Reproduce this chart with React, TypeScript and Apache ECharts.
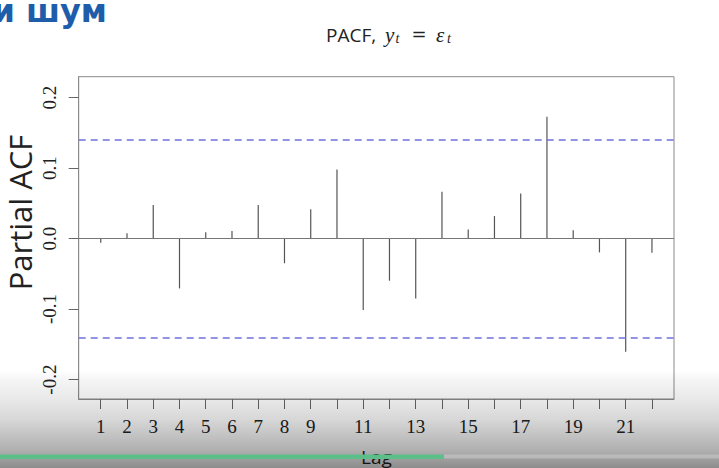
import React, { useEffect, useRef } from "react";
import * as echarts from "echarts";

const lags = [1, 2, 3, 4, 5, 6, 7, 8, 9, 10, 11, 12, 13, 14, 15, 16, 17, 18, 19, 20, 21, 22];
const pacf = [
  -0.006, 0.0074, 0.0475, -0.0707, 0.0088, 0.0106, 0.0475, -0.035, 0.0414, 0.098, -0.1014,
  -0.0598, -0.0849, 0.0664, 0.013, 0.0319, 0.064, 0.1728, 0.0116, -0.0196, -0.1605, -0.0201,
];
const xTickValues = lags;
const xTickLabels = [1, 2, 3, 4, 5, 6, 7, 8, 9, 11, 13, 15, 17, 19, 21];
const yTickValues = [-0.2, -0.1, 0, 0.1, 0.2];
const confLimit = 0.1386;
const xRange = [0.16, 22.84];
const yRange = [-0.2275, 0.2295];

const SERIF = "'Liberation Serif', 'DejaVu Serif', serif";
const SANS = "'Open Sans', 'Noto Sans', sans-serif";

export default function App() {
  const ref = useRef<HTMLDivElement>(null);
  useEffect(() => {
    if (!ref.current) return;
    const chart = echarts.init(ref.current, null, { renderer: "svg" });
    const option: any = {
      animation: false,
      backgroundColor: "#ffffff",
      grid: {
        left: 78.7,
        top: 76.7,
        right: 45,
        bottom: 69,
        show: true,
        borderColor: "#8a8a8a",
        borderWidth: 1,
        backgroundColor: "transparent",
        containLabel: false,
        outerBoundsMode: "none",
      },
      xAxis: {
        type: "value",
        min: xRange[0],
        max: xRange[1],
        name: "Lag",
        nameLocation: "middle",
        nameGap: 48,
        nameTextStyle: { fontFamily: SANS, fontSize: 19, color: "#222" },
        axisLine: { show: true, onZero: false, lineStyle: { color: "#8a8a8a", width: 1 } },
        splitLine: { show: false },
        axisTick: {
          show: true,
          inside: false,
          length: 10,
          customValues: xTickValues,
          lineStyle: { color: "#666", width: 1 },
        },
        axisLabel: {
          show: true,
          customValues: xTickLabels,
          margin: 18,
          fontFamily: SERIF,
          fontSize: 19,
          color: "#222",
          formatter: (v: number) => String(Math.round(v)),
        },
      },
      yAxis: {
        type: "value",
        min: yRange[0],
        max: yRange[1],
        axisLine: { show: true, onZero: false, lineStyle: { color: "#8a8a8a", width: 1 } },
        splitLine: { show: false },
        axisTick: {
          show: true,
          inside: false,
          length: 10,
          customValues: yTickValues,
          lineStyle: { color: "#666", width: 1 },
        },
        axisLabel: {
          show: true,
          customValues: yTickValues,
          rotate: 90,
          margin: 20,
          fontFamily: SERIF,
          fontSize: 19,
          color: "#222",
          formatter: (v: number) => v.toFixed(1),
        },
      },
      series: [
        {
          type: "bar",
          data: lags.map((l, i) => [l, pacf[i]]),
          barWidth: 1.2,
          itemStyle: { color: "#555" },
          silent: true,
          markLine: {
            silent: true,
            symbol: "none",
            label: { show: false },
            data: [
              { yAxis: 0, lineStyle: { color: "#777", type: "solid", width: 1 } },
              { yAxis: confLimit, lineStyle: { color: "#6f6fe0", type: [7, 5], width: 1.5 } },
              { yAxis: -confLimit, lineStyle: { color: "#6f6fe0", type: [7, 5], width: 1.5 } },
            ],
          },
        },
      ],
      graphic: [
        {
          type: "text",
          x: 20,
          y: 212.5,
          rotation: Math.PI / 2,
          style: {
            text: "Partial ACF",
            fontFamily: SANS,
            fontSize: 31,
            fill: "#222",
            textAlign: "center",
            textVerticalAlign: "middle",
          },
        },
        {
          type: "text",
          x: 326,
          y: 34.5,
          style: { text: "PACF,", fontFamily: SANS, fontSize: 19, fill: "#222", textVerticalAlign: "middle" },
        },
        {
          type: "text",
          x: 385,
          y: 34.6,
          style: { text: "y", fontFamily: SERIF, fontStyle: "italic", fontSize: 21, fill: "#222", textVerticalAlign: "middle" },
        },
        {
          type: "text",
          x: 395.5,
          y: 38.8,
          style: { text: "t", fontFamily: SERIF, fontStyle: "italic", fontSize: 14, fill: "#222", textVerticalAlign: "middle" },
        },
        {
          type: "text",
          x: 411.5,
          y: 34.2,
          style: { text: "=", fontFamily: "'DejaVu Serif', serif", fontSize: 18, fill: "#222", textVerticalAlign: "middle" },
        },
        {
          type: "text",
          x: 436,
          y: 34.6,
          style: { text: "ε", fontFamily: SERIF, fontStyle: "italic", fontSize: 21, fill: "#222", textVerticalAlign: "middle" },
        },
        {
          type: "text",
          x: 447,
          y: 38.8,
          style: { text: "t", fontFamily: SERIF, fontStyle: "italic", fontSize: 14, fill: "#222", textVerticalAlign: "middle" },
        },
        {
          type: "text",
          x: 107,
          y: 10.5,
          style: {
            text: "и шум",
            fontFamily: "'DejaVu Sans', sans-serif",
            fontWeight: "bold",
            fontSize: 32,
            fill: "#1e5da9",
            textAlign: "right",
            textVerticalAlign: "middle",
          },
        },
        {
          type: "rect",
          z: 100,
          silent: true,
          shape: { x: 0, y: 360, width: 719, height: 108 },
          style: {
            fill: new echarts.graphic.LinearGradient(0, 0, 0, 1, [
              { offset: 0, color: "rgba(0,0,0,0)" },
              { offset: 0.093, color: "rgba(0,0,0,0)" },
              { offset: 0.185, color: "rgba(0,0,0,0.04)" },
              { offset: 0.37, color: "rgba(0,0,0,0.09)" },
              { offset: 0.556, color: "rgba(0,0,0,0.16)" },
              { offset: 0.648, color: "rgba(0,0,0,0.21)" },
              { offset: 0.833, color: "rgba(0,0,0,0.31)" },
              { offset: 1, color: "rgba(0,0,0,0.45)" },
            ]),
          },
        },
        {
          type: "rect",
          z: 101,
          silent: true,
          shape: { x: 444, y: 454.5, width: 275, height: 4 },
          style: { fill: "rgba(205,205,205,0.55)" },
        },
        {
          type: "rect",
          z: 102,
          silent: true,
          shape: { x: 0, y: 454.5, width: 444, height: 4.5 },
          style: { fill: "#5cbf8a" },
        },
      ],
    };
    chart.setOption(option);
    return () => chart.dispose();
  }, []);
  return (
    <div
      ref={ref}
      style={{ position: "fixed", left: 0, top: 0, width: 719, height: 468 }}
    />
  );
}
